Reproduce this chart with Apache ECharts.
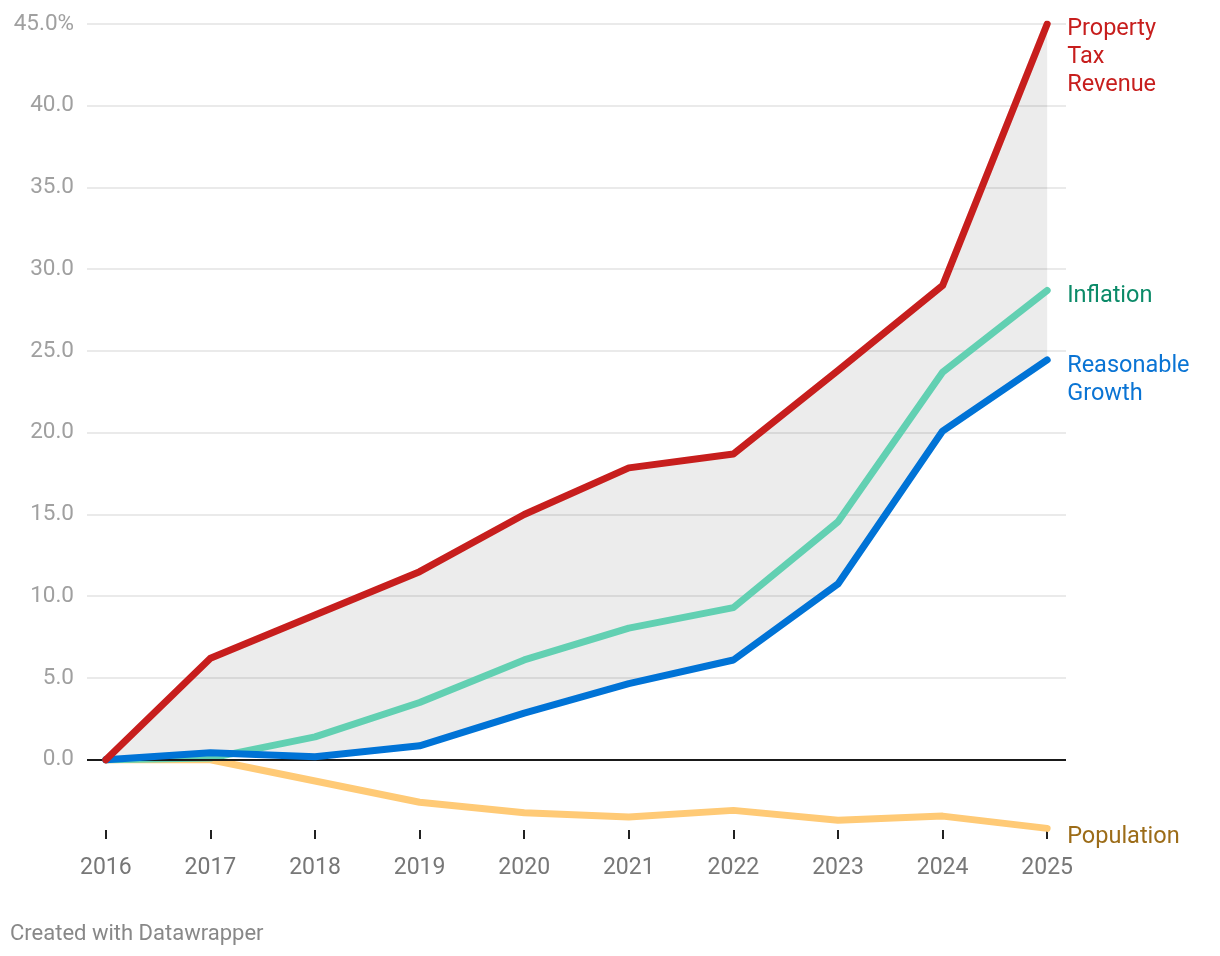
<!DOCTYPE html>
<html>
<head>
<meta charset="utf-8">
<script src="https://cdn.jsdelivr.net/npm/echarts@6/dist/echarts.min.js"></script>
<style>
html,body{margin:0;padding:0;background:#fff;}
#chart{width:1220px;height:956px;}
</style>
</head>
<body>
<div id="chart"></div>
<script>
const years = [2016, 2017, 2018, 2019, 2020, 2021, 2022, 2023, 2024, 2025];
const propertyTax = [0, 6.2, 8.85, 11.5, 15.0, 17.85, 18.7, 23.8, 29.0, 45.0];
const inflation = [0, 0.1, 1.4, 3.5, 6.1, 8.05, 9.3, 14.55, 23.7, 28.7];
const reasonableGrowth = [0, 0.43, 0.18, 0.85, 2.85, 4.65, 6.1, 10.75, 20.1, 24.45];
const population = [0, 0, -1.3, -2.6, -3.25, -3.5, -3.1, -3.7, -3.45, -4.2];
const yTicks = [0, 5, 10, 15, 20, 25, 30, 35, 40, 45];

const pairs = arr => arr.map((v, i) => [years[i], v]);
const bandData = years.map((y, i) => [y, propertyTax[i], reasonableGrowth[i]]);

const FONT = 'Roboto, "Noto Sans", sans-serif';

const chart = echarts.init(document.getElementById('chart'), null, {renderer: 'canvas'});

function lineSeries(name, data, color, labelText, labelColor, vAlign, offY, z) {
  return {
    name: name, type: 'line', data: pairs(data), symbol: 'none', z: z,
    lineStyle: {color: color, width: 7, cap: 'round', join: 'round'},
    emphasis: {disabled: true},
    endLabel: {
      show: true, formatter: labelText, color: labelColor, fontFamily: FONT,
      fontSize: 23.5, lineHeight: 28, distance: 20, align: 'left',
      verticalAlign: vAlign, offset: [0, offY]
    }
  };
}

chart.setOption({
  animation: false,
  backgroundColor: '#fff',
  grid: {left: 87, right: 154, top: 24, bottom: 126, containLabel: false},
  xAxis: {
    type: 'value', min: 2015.82, max: 2025.18,
    axisLine: {show: false, onZero: false},
    axisTick: {show: true, length: 9, lineStyle: {color: '#222', width: 2}, customValues: years},
    axisLabel: {customValues: years, color: '#777', fontSize: 23, fontFamily: FONT, margin: 27,
      formatter: v => String(v)},
    splitLine: {show: false}
  },
  yAxis: {
    type: 'value', min: -4.3, max: 45,
    axisLine: {show: false},
    axisTick: {show: false, customValues: yTicks},
    axisLabel: {customValues: yTicks, color: '#a0a0a0', fontSize: 22.5, fontFamily: FONT, margin: 13,
      padding: [4, 0, 0, 0],
      formatter: v => v === 45 ? v.toFixed(1) + '%' : v.toFixed(1)},
    splitLine: {show: true, lineStyle: {color: '#e3e3e3', width: 1.5}}
  },
  series: [
    {
      name: 'band', type: 'custom', data: bandData, silent: true, z: 1,
      encode: {x: 0, y: [1, 2]},
      renderItem: function (params, api) {
        if (params.dataIndex !== 0) return null;
        const top = bandData.map(d => api.coord([d[0], d[1]]));
        const bottom = bandData.slice().reverse().map(d => api.coord([d[0], d[2]]));
        return {
          type: 'polygon',
          shape: {points: top.concat(bottom)},
          style: {fill: 'rgba(0,0,0,0.075)'}
        };
      },
      markLine: {
        silent: true, symbol: 'none', label: {show: false},
        lineStyle: {color: '#1a1a1a', width: 2, type: 'solid'},
        data: [{yAxis: 0}]
      }
    },
    lineSeries('Population', population, '#ffca76', 'Population', '#9c6c18', 'middle', 9, 3),
    lineSeries('Inflation', inflation, '#62d0b2', 'Inflation', '#0b8a68', 'middle', 6, 4),
    lineSeries('Reasonable Growth', reasonableGrowth, '#0073d6', 'Reasonable\nGrowth', '#0a74d4', 'top', -8, 5),
    lineSeries('Property Tax Revenue', propertyTax, '#c71e1d', 'Property\nTax\nRevenue', '#c71e1d', 'top', -9, 6)
  ],
  graphic: [{
    type: 'text', left: 10, top: 923,
    style: {text: 'Created with Datawrapper', fill: '#888', fontSize: 22, fontFamily: FONT}
  }]
});
</script>
</body>
</html>
